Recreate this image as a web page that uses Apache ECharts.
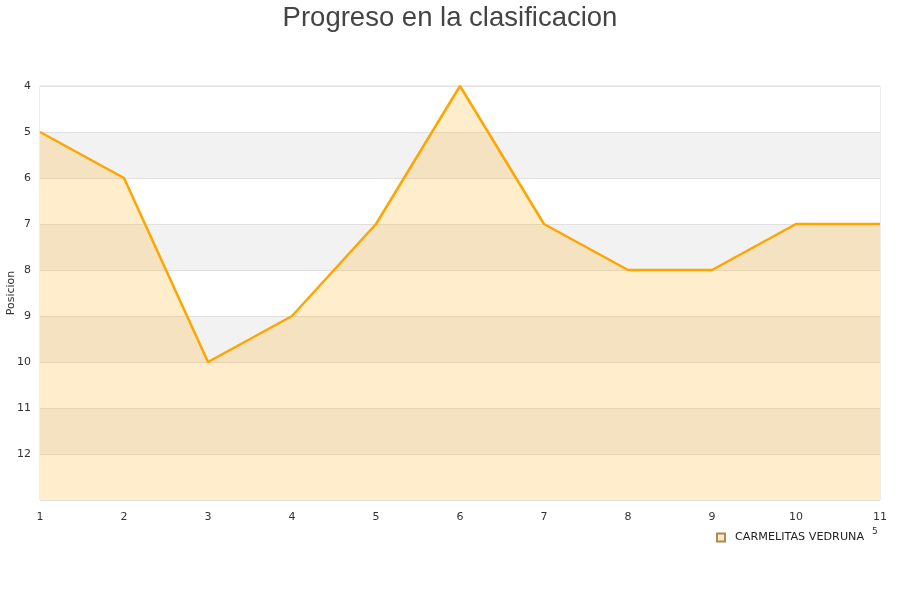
<!DOCTYPE html>
<html><head><meta charset="utf-8">
<script src="https://cdn.jsdelivr.net/npm/echarts@6/dist/echarts.min.js"></script>
<style>html,body{margin:0;padding:0;background:#fff}#c{width:900px;height:600px}</style>
</head><body><div id="c"></div>
<script>
const jornadas = ['1','2','3','4','5','6','7','8','9','10','11'];
const posiciones = [5,6,10,9,7,4,7,8,8,7,7];
const equipo = 'CARMELITAS VEDRUNA';
const titulo = 'Progreso en la clasificacion';
const ejeY = 'Posicion';

const chart = echarts.init(document.getElementById('c'));
chart.setOption({
  animation: false,
  backgroundColor: '#fff',
  title: {text: titulo, left: 'center', top: -1,
    textStyle: {fontFamily: 'Liberation Sans, Arial, sans-serif', fontSize: 27.5, fontWeight: 'normal', color: '#444'}},
  legend: {data: [{name: equipo, icon: 'rect'}], left: 716, top: 532, padding: 0, itemWidth: 8, itemHeight: 8, itemGap: 10,
    textStyle: {fontFamily: 'DejaVu Sans, sans-serif', fontSize: 11.2, color: '#222', padding: [0, 0, 0, 5]}},
  grid: {left: 40, right: 20, top: 86, bottom: 100, show: true, borderColor: '#ddd', borderWidth: 1,
    containLabel: false, outerBoundsMode: 'none'},
  xAxis: {type: 'category', data: jornadas, boundaryGap: false,
    axisLine: {show: false}, axisTick: {show: false},
    axisLabel: {color: '#333', fontSize: 11, fontFamily: 'DejaVu Sans, sans-serif', margin: 12,
      align: 'center'},
    splitLine: {show: false}},
  yAxis: {type: 'value', inverse: true, min: 4, max: 13, interval: 1,
    name: ejeY, nameLocation: 'middle', nameGap: 23, nameRotate: 90, nameMoveOverlap: false,
    nameTextStyle: {color: '#333', fontSize: 11, fontFamily: 'DejaVu Sans, sans-serif'},
    axisLine: {show: false}, axisTick: {show: false},
    axisLabel: {color: '#333', fontSize: 11, fontFamily: 'DejaVu Sans, sans-serif', margin: 9,
      formatter: v => v === 13 ? '' : String(v)},
    splitLine: {show: true, lineStyle: {color: '#e0e0e0', width: 1}},
    splitArea: {show: true, areaStyle: {color: ['#ffffff', '#f2f2f2'], opacity: 1}}},
  series: [{name: equipo, type: 'line', data: posiciones, symbol: 'none',
    lineStyle: {color: '#ffa500', width: 2.5},
    itemStyle: {color: '#fdebc9', borderColor: '#b08850', borderWidth: 1},
    areaStyle: {color: '#ffa500', opacity: 0.2, origin: 'end'}}],
  graphic: [{type: 'text', left: 872, top: 527, style: {text: '5', fontSize: 9, fill: '#333', fontFamily: 'DejaVu Sans'}}]
});
</script></body></html>
